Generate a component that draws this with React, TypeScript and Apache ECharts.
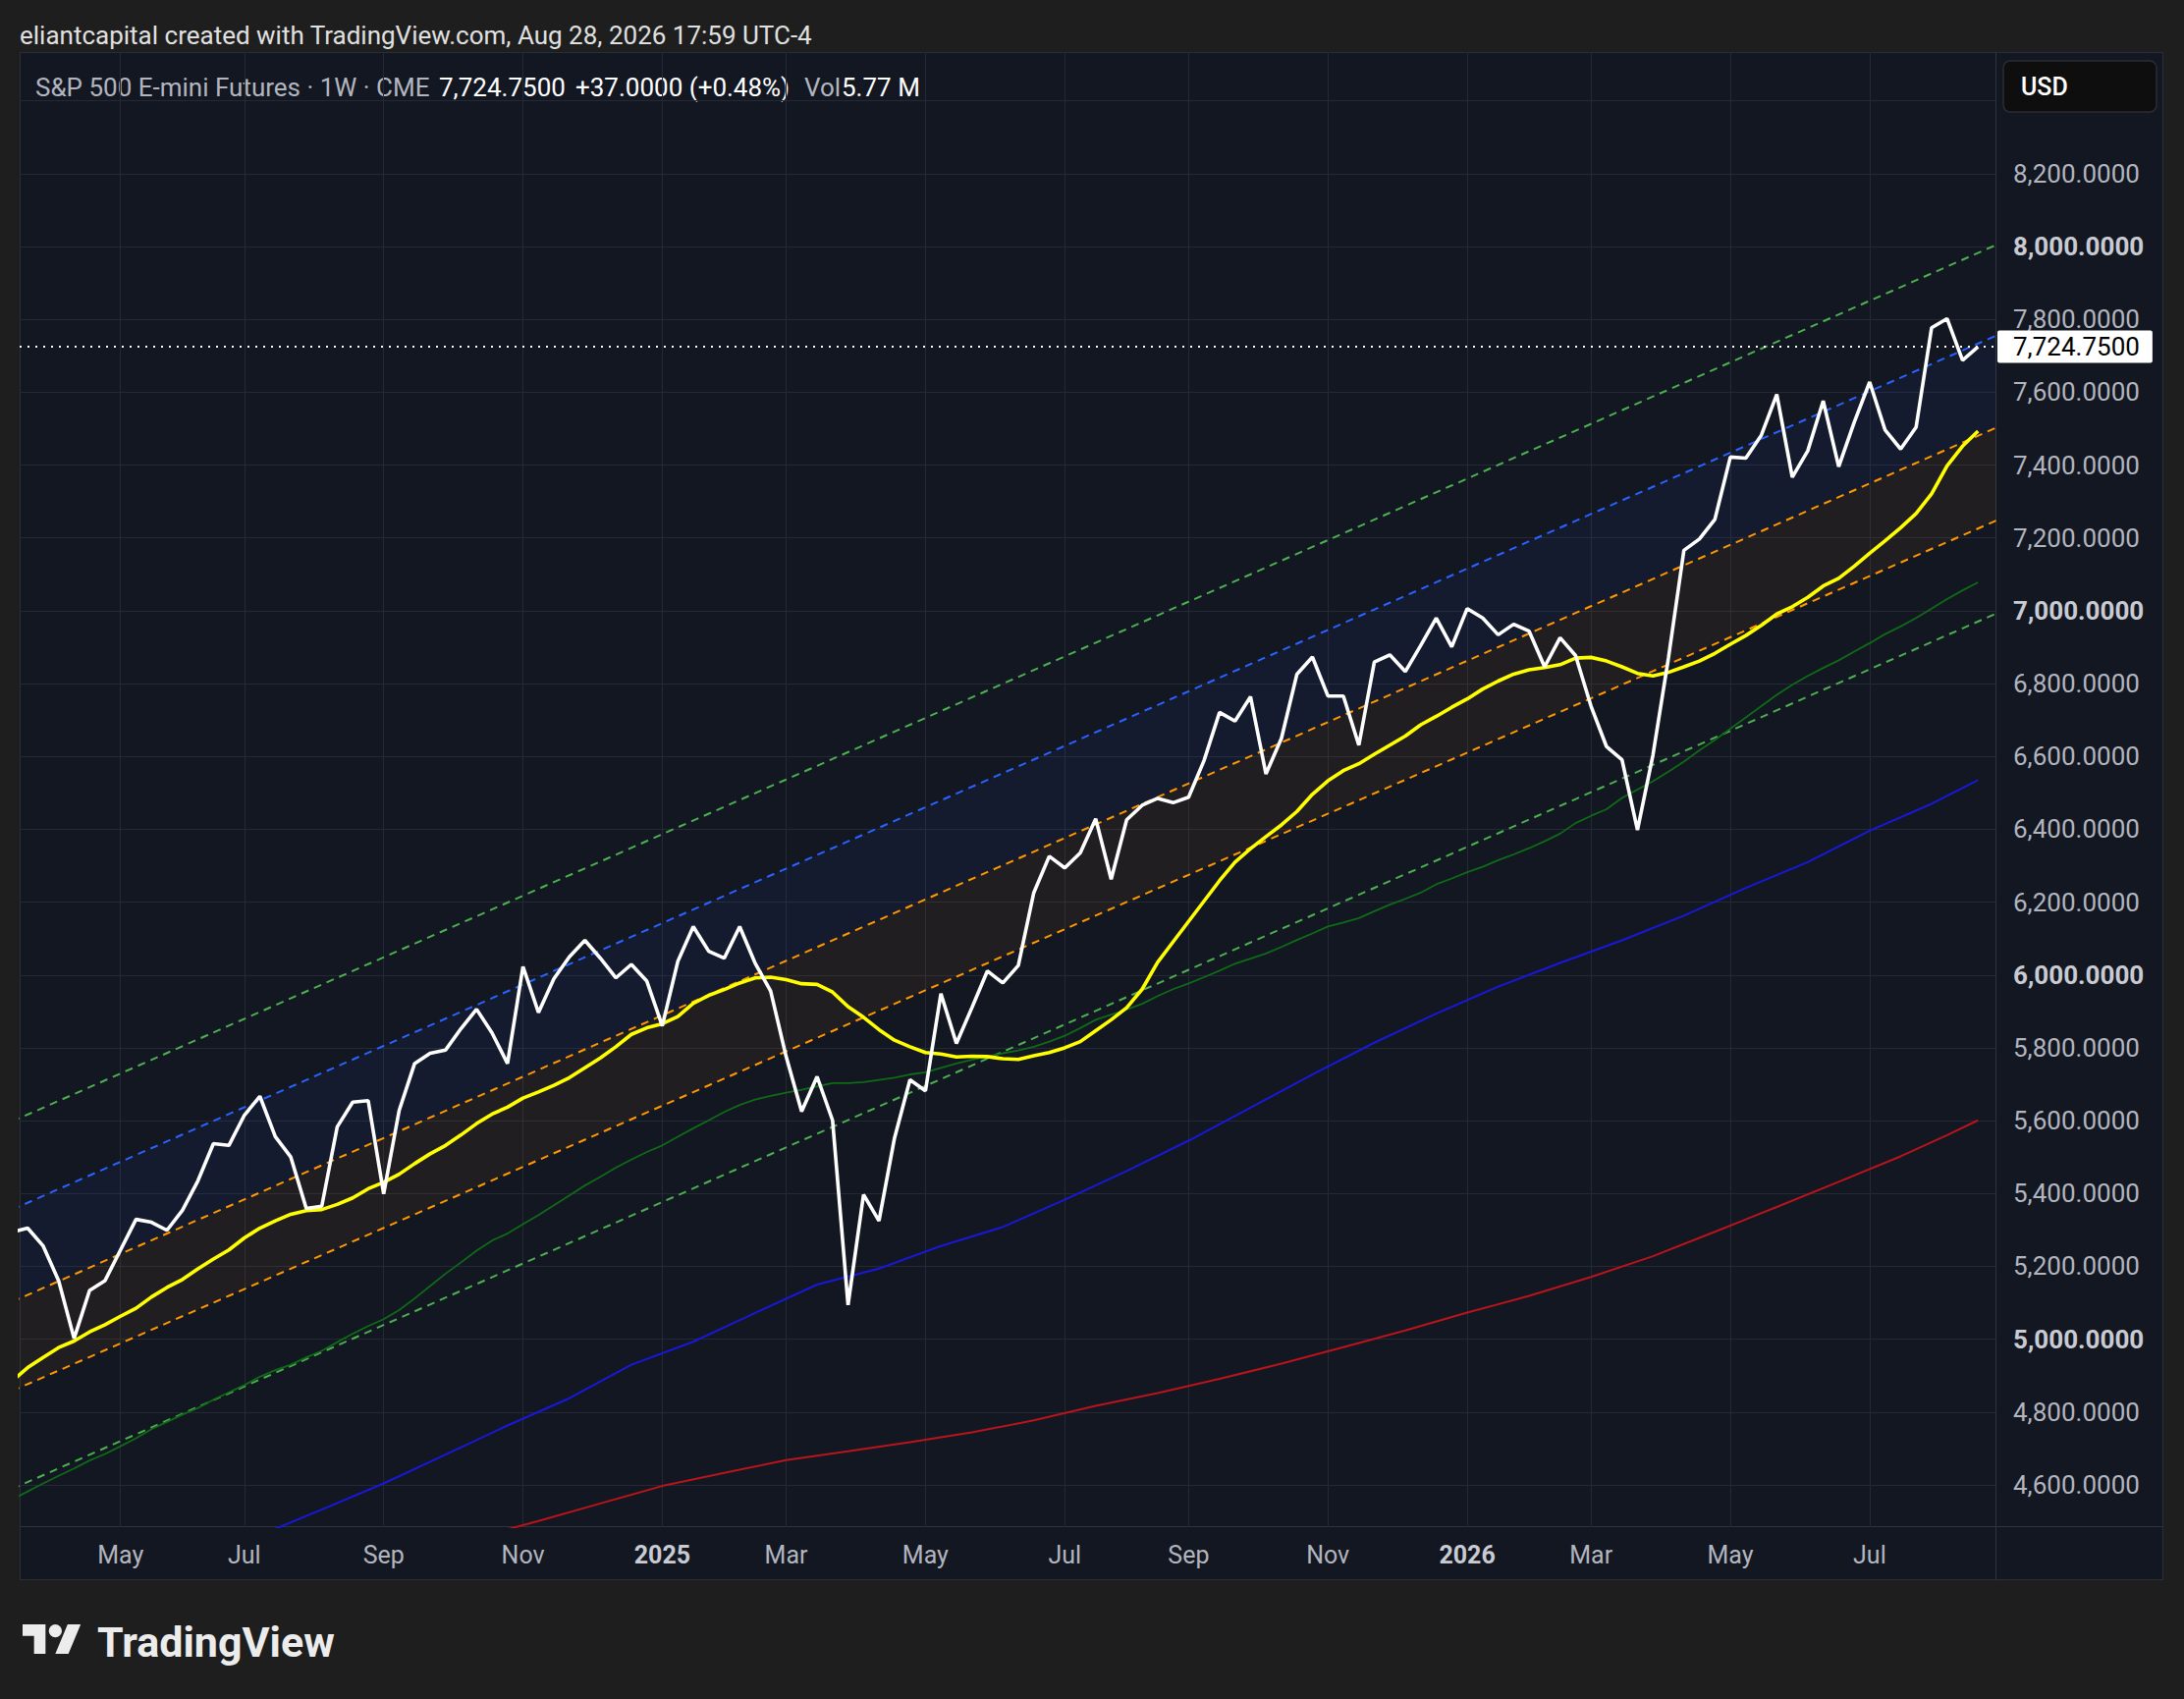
import React, { useEffect, useRef } from "react";
import * as echarts from "echarts";

const W = 2224;
const H = 1730;
const FONT = "Roboto, 'Noto Sans', sans-serif";

// Weekly bars; index 0 = week of 2024-03-18
const startWeek = "2024-03-18";

const closes = [
  5294, 5305, 5256, 5161, 5002, 5134, 5161, 5245, 5329, 5321,
  5299, 5354, 5435, 5537, 5532, 5615, 5667, 5556, 5500, 5359,
  5365, 5583, 5651, 5655, 5399, 5628, 5757, 5785, 5794, 5853,
  5906, 5841, 5757, 6023, 5897, 5990, 6050, 6095, 6046, 5992,
  6029, 5983, 5860, 6037, 6133, 6065, 6046, 6133, 6032, 5956,
  5776, 5625, 5721, 5601, 5094, 5397, 5325, 5552, 5712, 5682,
  5949, 5812, 5910, 6011, 5978, 6026, 6226, 6326, 6294, 6335,
  6429, 6263, 6426, 6466, 6485, 6473, 6488, 6589, 6721, 6697,
  6764, 6552, 6650, 6826, 6873, 6766, 6766, 6631, 6859, 6879,
  6833, 6905, 6980, 6901, 7006, 6980, 6934, 6963, 6944, 6846,
  6926, 6877, 6738, 6627, 6591, 6398, 6604, 6870, 7166, 7197,
  7251, 7422, 7419, 7482, 7594, 7367, 7439, 7576, 7396, 7517,
  7628, 7496, 7444, 7504, 7777, 7802, 7687.75, 7724.75,
];

// yellow moving average
const maYellow = [
  4885, 4922, 4950, 4977, 4995, 5020, 5040, 5063, 5085, 5116,
  5142, 5164, 5193, 5220, 5245, 5278, 5305, 5325, 5343, 5353,
  5356, 5370, 5388, 5413, 5431, 5453, 5482, 5509, 5532, 5561,
  5592, 5618, 5637, 5662, 5679, 5697, 5718, 5745, 5772, 5803,
  5837, 5855, 5866, 5886, 5922, 5944, 5960, 5978, 5992, 5994,
  5987, 5976, 5974, 5953, 5913, 5884, 5850, 5821, 5803, 5787,
  5783, 5775, 5777, 5776, 5770, 5768, 5778, 5787, 5800, 5817,
  5847, 5877, 5910, 5961, 6035, 6091, 6147, 6203, 6259, 6310,
  6347, 6380, 6412, 6449, 6496, 6533, 6561, 6580, 6606, 6631,
  6656, 6687, 6710, 6735, 6758, 6785, 6807, 6826, 6838, 6844,
  6852, 6870, 6872, 6862, 6846, 6828, 6821, 6831, 6846, 6862,
  6883, 6908, 6932, 6960, 6991, 7011, 7037, 7068, 7089, 7122,
  7158, 7192, 7228, 7267, 7321, 7398, 7452, 7493,
];

// thin green moving average
const maGreen = [
  4560, 4582, 4604, 4625, 4645, 4667, 4685, 4706, 4728, 4753,
  4773, 4793, 4811, 4834, 4854, 4874, 4897, 4915, 4930, 4950,
  4968, 4992, 5015, 5036, 5055, 5080, 5112, 5146, 5180, 5211,
  5243, 5271, 5290, 5316, 5341, 5368, 5395, 5422, 5446, 5471,
  5493, 5514, 5532, 5556, 5579, 5601, 5624, 5643, 5658, 5668,
  5677, 5685, 5694, 5703, 5703, 5706, 5712, 5718, 5727, 5733,
  5745, 5757, 5767, 5776, 5785, 5793, 5803, 5817, 5833, 5854,
  5877, 5891, 5905, 5921, 5942, 5961, 5977, 5994, 6012, 6031,
  6045, 6059, 6077, 6096, 6114, 6133, 6144, 6156, 6175, 6193,
  6209, 6226, 6249, 6265, 6282, 6297, 6315, 6331, 6348, 6367,
  6388, 6417, 6437, 6455, 6486, 6509, 6532, 6558, 6586, 6617,
  6645, 6676, 6707, 6738, 6769, 6797, 6821, 6843, 6864, 6888,
  6911, 6936, 6957, 6980, 7006, 7032, 7056, 7078,
];

// blue moving average (read every 4 weeks)
const maBlueIdx = [16, 20, 24, 28, 32, 36, 40, 44, 48, 52, 56, 60, 64, 68, 72, 76, 80, 84, 88, 92, 96, 100, 104, 108, 112, 116, 120, 124, 127];
const maBlueVal = [4462, 4532, 4604, 4683, 4763, 4838, 4930, 4993, 5072, 5150, 5194, 5256, 5308, 5383, 5462, 5545, 5636, 5727, 5814, 5894, 5968, 6033, 6095, 6163, 6239, 6310, 6396, 6470, 6535];

// red moving average (read every 4 weeks)
const maRedIdx = [30, 34, 38, 42, 46, 50, 54, 58, 62, 66, 70, 74, 78, 82, 86, 90, 94, 98, 102, 106, 110, 114, 118, 122, 125, 127];
const maRedVal = [4455, 4501, 4549, 4597, 4633, 4668, 4692, 4717, 4744, 4777, 4817, 4852, 4891, 4933, 4978, 5024, 5073, 5119, 5171, 5228, 5295, 5363, 5432, 5502, 5560, 5601];

// regression channel lines: values at bar 0 and bar 129
const channelIdx = [0, 129];
const chGreenUp = [5598, 8020];
const chBlue = [5356, 7771];
const chOrangeUp = [5103, 7518];
const chOrangeLow = [4858, 7263];
const chGreenLow = [4589, 7008];

const xTickIdx = [7, 15, 24, 33, 42, 50, 59, 68, 76, 85, 94, 102, 111, 120];
const xTickLabels = ["May", "Jul", "Sep", "Nov", "2025", "Mar", "May", "Jul", "Sep", "Nov", "2026", "Mar", "May", "Jul"];
const yGridValues = [4600, 4800, 5000, 5200, 5400, 5600, 5800, 6000, 6200, 6400, 6600, 6800, 7000, 7200, 7400, 7600, 7800, 8000, 8200, 8400];
const yLabelValues = [4600, 4800, 5000, 5200, 5400, 5600, 5800, 6000, 6200, 6400, 6600, 6800, 7000, 7200, 7400, 7600, 7800, 8000, 8200];

const lastPrice = 7724.75;
const prevClose = 7687.75;
const volumeText = "5.77 M";

const X_MIN = 0.482;
const X_MAX = 128.19;
const Y_MIN = 4484;
const Y_MAX = 8534;

const LOGO_PATH =
  "M14 22H7V11H0V4h14v18zM28 22h-8l7.5-18h8L28 22zM24 8a4 4 0 1 1-8 0a4 4 0 1 1 8 0z";

const fmt4 = (v: number) =>
  v.toLocaleString("en-US", { minimumFractionDigits: 4, maximumFractionDigits: 4 });

function lineSeries(name: string, data: number[][], color: string, width: number, type: any = "solid") {
  return {
    type: "line",
    name,
    data,
    symbol: "none",
    showSymbol: false,
    silent: true,
    clip: true,
    emphasis: { disabled: true },
    lineStyle: { color, width, type },
  };
}

function buildOption() {
  const change = lastPrice - prevClose;
  const pct = (change / prevClose) * 100;
  const sign = change >= 0 ? "+" : "";

  const bands = [
    [channelIdx[0], channelIdx[1], chOrangeLow[0], chOrangeUp[0], chOrangeLow[1], chOrangeUp[1], 0],
    [channelIdx[0], channelIdx[1], chOrangeUp[0], chBlue[0], chOrangeUp[1], chBlue[1], 1],
  ];
  const bandFill = ["rgba(255,152,0,0.06)", "rgba(60,95,230,0.06)"];

  const seg = (arr: number[]) => channelIdx.map((x, i) => [x, arr[i]]);

  const headerY = 89;
  const textBase = { fontFamily: FONT, fontSize: 26, verticalAlign: "middle" };

  return {
    animation: false,
    backgroundColor: "transparent",
    grid: { left: 20, top: 53, width: 2013, height: 1502, containLabel: false },
    xAxis: {
      type: "value",
      min: X_MIN,
      max: X_MAX,
      axisLine: { show: false },
      axisTick: { show: false, customValues: xTickIdx },
      splitLine: { show: true, lineStyle: { color: "#252935", width: 1 } },
      axisLabel: {
        customValues: xTickIdx,
        margin: 16,
        formatter: (v: number) => {
          const k = xTickIdx.indexOf(Math.round(v));
          const t = k >= 0 ? xTickLabels[k] : "";
          return /^\d{4}$/.test(t) ? `{b|${t}}` : `{n|${t}}`;
        },
        rich: {
          n: { color: "#b2b5be", fontSize: 25, fontFamily: FONT },
          b: { color: "#c9cbd2", fontSize: 25, fontFamily: FONT, fontWeight: "bold" },
        },
      },
    },
    yAxis: {
      type: "value",
      position: "right",
      min: Y_MIN,
      max: Y_MAX,
      axisLine: { show: false },
      axisTick: { show: false, customValues: yGridValues },
      splitLine: { show: true, lineStyle: { color: "#252935", width: 1 } },
      axisLabel: {
        customValues: yLabelValues,
        margin: 17,
        formatter: (v: number) => (v % 1000 === 0 ? `{b|${fmt4(v)}}` : `{n|${fmt4(v)}}`),
        rich: {
          n: { color: "#b2b5be", fontSize: 26, fontFamily: FONT },
          b: { color: "#c9cbd2", fontSize: 26, fontFamily: FONT, fontWeight: "bold" },
        },
      },
    },
    graphic: [
      {
        type: "text",
        x: 20,
        y: 36,
        silent: true,
        style: { ...textBase, text: "eliantcapital created with TradingView.com, Aug 28, 2026 17:59 UTC-4", fill: "#e0e0e0" },
      },
      { type: "text", x: 36, y: headerY, silent: true, style: { ...textBase, text: "S&P 500 E-mini Futures · 1W · CME", fill: "#b2b5be" } },
      { type: "text", x: 447, y: headerY, silent: true, style: { ...textBase, text: fmt4(lastPrice), fill: "#ffffff" } },
      {
        type: "text",
        x: 586,
        y: headerY,
        silent: true,
        style: { ...textBase, text: `${sign}${fmt4(change)} (${sign}${pct.toFixed(2)}%)`, fill: "#ffffff" },
      },
      { type: "text", x: 819, y: headerY, silent: true, style: { ...textBase, text: "Vol", fill: "#b2b5be" } },
      { type: "text", x: 857, y: headerY, silent: true, style: { ...textBase, text: volumeText, fill: "#ffffff" } },
      {
        type: "rect",
        silent: true,
        shape: { x: 2040, y: 62, width: 156, height: 52, r: 7 },
        style: { fill: "#0e0e0e", stroke: "#2c2d33", lineWidth: 1.5 },
      },
      {
        type: "text",
        x: 2058,
        y: 88,
        silent: true,
        style: { fontFamily: FONT, fontSize: 25, fontWeight: 500, verticalAlign: "middle", text: "USD", fill: "#ffffff" },
      },
      {
        type: "tvlogo",
        x: 23,
        y: 1647.3,
        scaleX: 1.667,
        scaleY: 1.667,
        silent: true,
        style: { fill: "#ececec" },
      },
      {
        type: "text",
        x: 99,
        y: 1672,
        silent: true,
        style: { fontFamily: FONT, fontSize: 43, fontWeight: "bold", verticalAlign: "middle", text: "TradingView", fill: "#ececec" },
      },
    ],
    series: [
      {
        type: "custom",
        silent: true,
        clip: true,
        data: bands,
        encode: { x: [0, 1], y: [2, 3, 4, 5] },
        renderItem: (params: any, api: any) => {
          const x0 = api.value(0);
          const x1 = api.value(1);
          const p = [
            api.coord([x0, api.value(2)]),
            api.coord([x1, api.value(4)]),
            api.coord([x1, api.value(5)]),
            api.coord([x0, api.value(3)]),
          ];
          const cs = params.coordSys;
          return {
            type: "polygon",
            shape: { points: p },
            style: { fill: bandFill[api.value(6)] },
            clipPath: { type: "rect", shape: { x: cs.x, y: cs.y, width: cs.width, height: cs.height } },
          };
        },
      },
      lineSeries("chGreenUp", seg(chGreenUp), "#4caf50", 2, [8, 6]),
      lineSeries("chBlue", seg(chBlue), "#2962ff", 2, [8, 6]),
      lineSeries("chOrangeUp", seg(chOrangeUp), "#ff9800", 2, [8, 6]),
      lineSeries("chOrangeLow", seg(chOrangeLow), "#ff9800", 2, [8, 6]),
      lineSeries("chGreenLow", seg(chGreenLow), "#4caf50", 2, [8, 6]),
      lineSeries("maRed", maRedIdx.map((x, i) => [x, maRedVal[i]]), "#b8141c", 2),
      lineSeries("maBlue", maBlueIdx.map((x, i) => [x, maBlueVal[i]]), "#1818d8", 2),
      lineSeries("maGreen", maGreen.map((v, i) => [i, v]), "#0f6a17", 1.8),
      lineSeries("maYellow", maYellow.map((v, i) => [i, v]), "#ffff00", 3.6),
      {
        ...lineSeries("close", closes.map((v, i) => [i, v]), "#ffffff", 3.6),
        markLine: {
          silent: true,
          symbol: ["none", "none"],
          animation: false,
          lineStyle: { color: "#ffffff", width: 2, type: [2, 6] },
          label: {
            show: true,
            position: "end",
            distance: 1,
            formatter: () => fmt4(lastPrice),
            color: "#000000",
            backgroundColor: "#ffffff",
            fontFamily: FONT,
            fontSize: 26,
            lineHeight: 27,
            padding: [3, 13, 3, 16],
            borderRadius: 2,
          },
          data: [{ yAxis: lastPrice }],
        },
      },
    ],
  };
}

export default function App() {
  const ref = useRef<HTMLDivElement>(null);
  useEffect(() => {
    if (!ref.current) return;
    echarts.graphic.registerShape("tvlogo", echarts.graphic.extendPath(LOGO_PATH, {}) as any);
    const chart = echarts.init(ref.current, null, { renderer: "svg" });
    chart.setOption(buildOption() as any);
    return () => chart.dispose();
  }, []);
  return (
    <div style={{ position: "fixed", left: 0, top: 0, width: W, height: H, background: "#1e1e1e", overflow: "hidden" }}>
      <div
        style={{
          position: "absolute",
          left: 20,
          top: 53,
          width: 2183,
          height: 1556,
          background: "#131722",
          border: "1px solid #2a2e39",
          boxSizing: "border-box",
        }}
      />
      <div style={{ position: "absolute", left: 2032, top: 53, width: 1, height: 1556, background: "#2f333e" }} />
      <div style={{ position: "absolute", left: 20, top: 1554, width: 2183, height: 1, background: "#2f333e" }} />
      <div ref={ref} data-start={startWeek} style={{ position: "absolute", left: 0, top: 0, width: W, height: H }} />
    </div>
  );
}
